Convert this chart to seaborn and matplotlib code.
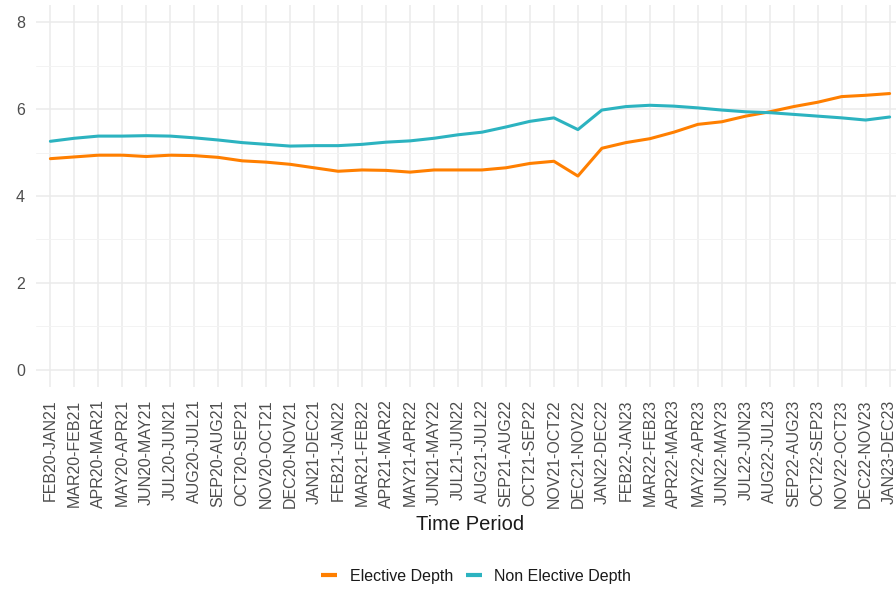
import pandas as pd
import matplotlib.pyplot as plt
import seaborn as sns

periods = [
    "FEB20-JAN21", "MAR20-FEB21", "APR20-MAR21", "MAY20-APR21", "JUN20-MAY21",
    "JUL20-JUN21", "AUG20-JUL21", "SEP20-AUG21", "OCT20-SEP21", "NOV20-OCT21",
    "DEC20-NOV21", "JAN21-DEC21", "FEB21-JAN22", "MAR21-FEB22", "APR21-MAR22",
    "MAY21-APR22", "JUN21-MAY22", "JUL21-JUN22", "AUG21-JUL22", "SEP21-AUG22",
    "OCT21-SEP22", "NOV21-OCT22", "DEC21-NOV22", "JAN22-DEC22", "FEB22-JAN23",
    "MAR22-FEB23", "APR22-MAR23", "MAY22-APR23", "JUN22-MAY23", "JUL22-JUN23",
    "AUG22-JUL23", "SEP22-AUG23", "OCT22-SEP23", "NOV22-OCT23", "DEC22-NOV23",
    "JAN23-DEC23",
]

elective = [
    4.86, 4.90, 4.94, 4.94, 4.91, 4.94, 4.93, 4.89, 4.81, 4.78,
    4.73, 4.65, 4.57, 4.60, 4.59, 4.55, 4.60, 4.60, 4.60, 4.65,
    4.75, 4.80, 4.46, 5.10, 5.23, 5.32, 5.47, 5.65, 5.71, 5.84,
    5.94, 6.06, 6.16, 6.29, 6.32, 6.36,
]

non_elective = [
    5.26, 5.33, 5.38, 5.38, 5.39, 5.38, 5.34, 5.29, 5.23, 5.19,
    5.15, 5.16, 5.16, 5.19, 5.24, 5.27, 5.33, 5.41, 5.47, 5.59,
    5.72, 5.80, 5.53, 5.98, 6.06, 6.09, 6.07, 6.03, 5.98, 5.94,
    5.92, 5.88, 5.84, 5.80, 5.75, 5.82,
]

df = pd.DataFrame({
    "Time Period": periods * 2,
    "Depth": elective + non_elective,
    "Type": ["Elective Depth"] * len(periods) + ["Non Elective Depth"] * len(periods),
})

sns.set_theme(style="white")
plt.rcParams["font.family"] = ["Liberation Sans", "DejaVu Sans"]

fig = plt.figure(figsize=(8.96, 5.89), dpi=100)
# panel runs a bit past the right edge, like the cropped original
ax = fig.add_axes([36 / 896, 1 - 387 / 589, (904 - 36) / 896, (387 - 5) / 589])

palette = {"Elective Depth": "#FF7F00", "Non Elective Depth": "#2CB3C0"}
sns.lineplot(data=df, x="Time Period", y="Depth", hue="Type", palette=palette,
             linewidth=2.2, sort=False, ax=ax, legend=False)

ax.set_xlim(-0.6, len(periods) - 0.4)
ax.set_ylim(-0.4, 8.4)
ax.set_yticks([0, 2, 4, 6, 8])
ax.set_yticks([1, 3, 5, 7], minor=True)
ax.grid(True, which="major", color="#EBEBEB", linewidth=1.1)
ax.grid(True, which="minor", axis="y", color="#F3F3F3", linewidth=0.7)
ax.set_axisbelow(True)
for s in ax.spines.values():
    s.set_visible(False)

ax.tick_params(axis="both", length=0, colors="#4D4D4D", labelsize=11.5)
ax.tick_params(axis="y", pad=8)
ax.tick_params(axis="x", pad=9)
ax.set_xticks(range(len(periods)))
ax.set_xticklabels(periods, rotation=90, va="top", ha="center")
ax.set_ylabel("")
ax.set_xlabel("Time Period", fontsize=14.5, color="#1A1A1A", labelpad=5)

handles = [plt.Line2D([], [], color=palette[k], linewidth=3, solid_capstyle="butt")
           for k in palette]
fig.legend(handles, list(palette), loc="center", bbox_to_anchor=(476 / 896, 1 - 576 / 589),
           ncol=2, frameon=False, fontsize=11.5, handlelength=1.0, columnspacing=0.8,
           handletextpad=0.8, labelcolor="#1A1A1A")

fig.savefig("out.png", dpi=100)
